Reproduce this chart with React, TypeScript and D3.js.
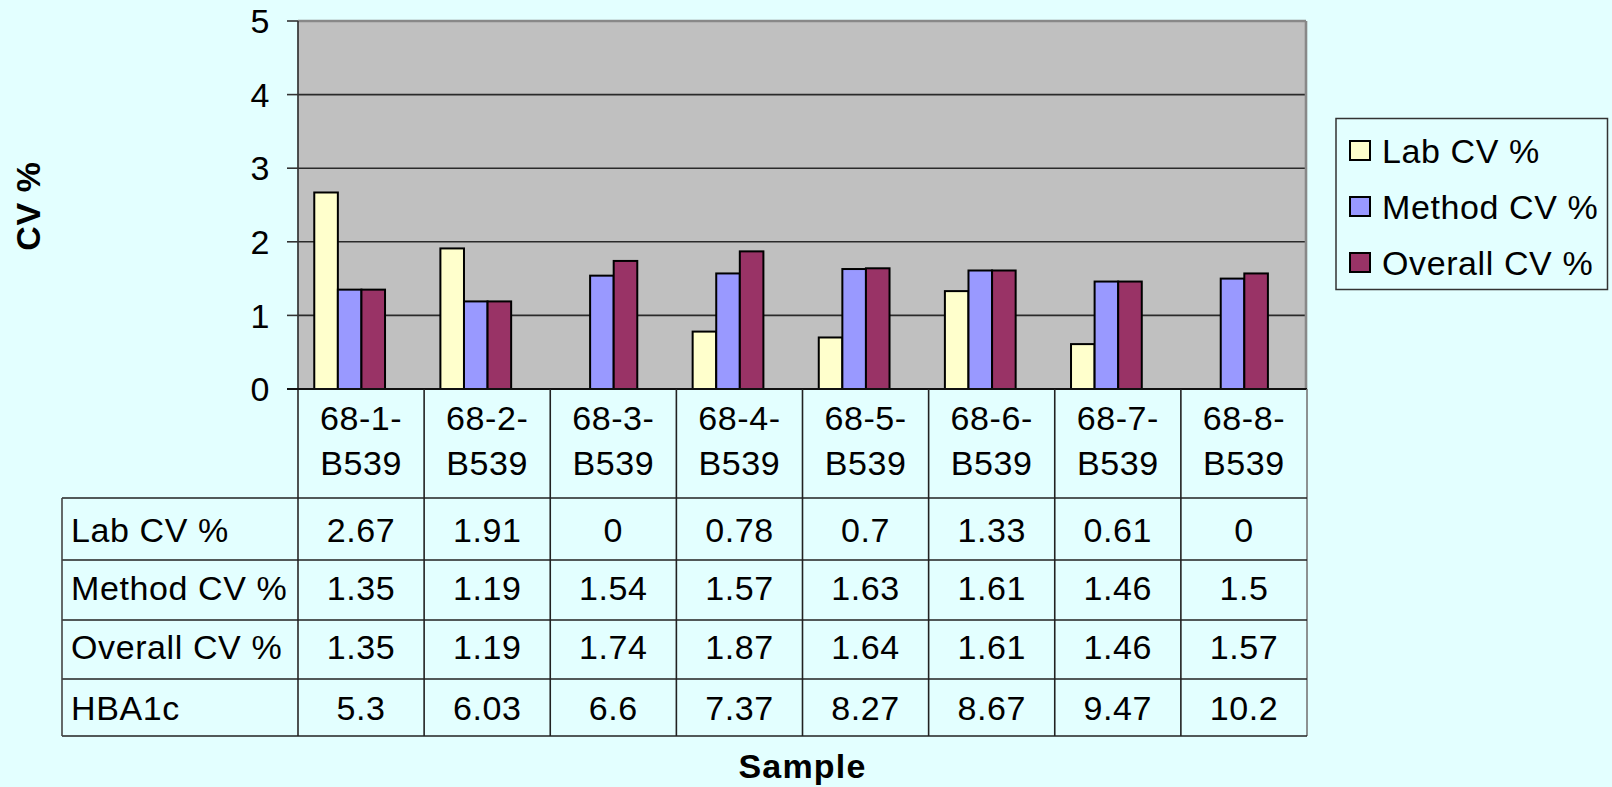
import React from "react";
import * as d3 from "d3";

// Samples and their CV figures (also shown in the data table under the plot)
const samples = [
  "68-1-B539",
  "68-2-B539",
  "68-3-B539",
  "68-4-B539",
  "68-5-B539",
  "68-6-B539",
  "68-7-B539",
  "68-8-B539",
];
const labCV = [2.67, 1.91, 0, 0.78, 0.7, 1.33, 0.61, 0];
const methodCV = [1.35, 1.19, 1.54, 1.57, 1.63, 1.61, 1.46, 1.5];
const overallCV = [1.35, 1.19, 1.74, 1.87, 1.64, 1.61, 1.46, 1.57];
const hba1c = [5.3, 6.03, 6.6, 7.37, 8.27, 8.67, 9.47, 10.2];

const seriesNames = ["Lab CV %", "Method CV %", "Overall CV %"];
const seriesColors = ["#FFFFCC", "#9999FF", "#993366"];
const yTicks = [0, 1, 2, 3, 4, 5];

const W = 1612;
const H = 787;
const BG = "#E3FFFF";
const FONT = "'Liberation Sans', Arial, sans-serif";

// layout
const plotLeft = 298;
const plotRight = 1307;
const plotTop = 21;
const plotBottom = 389;
const tableLeft = 62;
const rowLines = [498, 560, 620, 679, 736];
const rowBaselines = [542, 600, 659, 720];

export default function App() {
  const x = d3.scaleBand<string>().domain(samples).range([plotLeft, plotRight]).padding(0);
  const y = d3.scaleLinear().domain([0, 5]).range([plotBottom, plotTop]);
  const bw = x.bandwidth();
  const barW = bw * 0.187;
  const groupOffset = bw * 0.129;

  const series = [labCV, methodCV, overallCV];
  const tableRows: { label: string; values: number[] }[] = [
    { label: "Lab CV %", values: labCV },
    { label: "Method CV %", values: methodCV },
    { label: "Overall CV %", values: overallCV },
    { label: "HBA1c", values: hba1c },
  ];

  const txt = { fontFamily: FONT, fontSize: 34, letterSpacing: 0.6, fill: "#000" } as const;

  return (
    <svg
      width={W}
      height={H}
      style={{ position: "absolute", left: 0, top: 0, display: "block" }}
      xmlns="http://www.w3.org/2000/svg"
    >
      <rect x={0} y={0} width={W} height={H} fill={BG} />

      {/* plot area */}
      <rect x={plotLeft} y={plotTop} width={plotRight - plotLeft} height={plotBottom - plotTop} fill="#C0C0C0" />
      {yTicks.slice(1, -1).map((t) => (
        <line key={t} x1={plotLeft} x2={plotRight} y1={y(t)} y2={y(t)} stroke="#2a2a2a" strokeWidth={1.6} />
      ))}
      <line x1={plotLeft} x2={plotRight - 1} y1={plotTop} y2={plotTop} stroke="#888" strokeWidth={2.6} />
      <line x1={plotRight - 1} x2={plotRight - 1} y1={plotTop} y2={plotBottom} stroke="#888" strokeWidth={2.6} />

      {/* bars */}
      {samples.map((s, i) =>
        series.map((vals, k) => {
          const v = vals[i];
          if (v <= 0) return null;
          const bx = (x(s) as number) + groupOffset + k * barW;
          return (
            <rect
              key={`${s}-${k}`}
              x={bx}
              y={y(v)}
              width={barW}
              height={y(0) - y(v)}
              fill={seriesColors[k]}
              stroke="#000"
              strokeWidth={2}
            />
          );
        })
      )}

      {/* y axis */}
      <line x1={plotLeft} x2={plotLeft} y1={plotTop} y2={rowLines[rowLines.length - 1]} stroke="#333" strokeWidth={1.7} />
      {yTicks.map((t) => (
        <g key={t}>
          <line x1={plotLeft - 11} x2={plotLeft} y1={y(t)} y2={y(t)} stroke="#333" strokeWidth={1.6} />
          <text x={270} y={y(t)} dy="0.36em" textAnchor="end" {...txt}>
            {t}
          </text>
        </g>
      ))}
      <text
        transform={`translate(28,206) rotate(-90)`}
        textAnchor="middle"
        dy="0.36em"
        fontFamily={FONT}
        fontSize={34}
        fontWeight="bold"
        letterSpacing={0.6}
      >
        CV %
      </text>

      {/* category axis line */}
      <line x1={plotLeft - 11} x2={plotRight} y1={plotBottom} y2={plotBottom} stroke="#111" strokeWidth={1.8} />

      {/* data table grid */}
      {samples.map((s) => (
        <line
          key={`v-${s}`}
          x1={(x(s) as number) + bw}
          x2={(x(s) as number) + bw}
          y1={plotBottom}
          y2={rowLines[rowLines.length - 1]}
          stroke={s === samples[samples.length - 1] ? "#777" : "#222"}
          strokeWidth={1.6}
        />
      ))}
      {rowLines.map((ry) => (
        <line key={`h-${ry}`} x1={tableLeft} x2={plotRight} y1={ry} y2={ry} stroke="#222" strokeWidth={1.5} />
      ))}
      <line x1={tableLeft} x2={tableLeft} y1={rowLines[0]} y2={rowLines[rowLines.length - 1]} stroke="#444" strokeWidth={1.6} />

      {/* category labels */}
      {samples.map((s) => {
        const cx = (x(s) as number) + bw / 2;
        const parts = s.split("-");
        const line1 = `${parts[0]}-${parts[1]}-`;
        const line2 = parts.slice(2).join("-");
        return (
          <g key={`c-${s}`}>
            <text x={cx} y={430} textAnchor="middle" {...txt}>
              {line1}
            </text>
            <text x={cx} y={475} textAnchor="middle" {...txt}>
              {line2}
            </text>
          </g>
        );
      })}

      {/* table rows */}
      {tableRows.map((row, r) => (
        <g key={row.label}>
          <text x={71} y={rowBaselines[r]} {...txt}>
            {row.label}
          </text>
          {samples.map((s, i) => (
            <text key={s} x={(x(s) as number) + bw / 2} y={rowBaselines[r]} textAnchor="middle" {...txt}>
              {String(row.values[i])}
            </text>
          ))}
        </g>
      ))}

      {/* x axis title */}
      <text
        x={(plotLeft + plotRight) / 2}
        y={778}
        textAnchor="middle"
        fontFamily={FONT}
        fontSize={34}
        fontWeight="bold"
        letterSpacing={1.2}
      >
        Sample
      </text>

      {/* legend */}
      <rect x={1336} y={118.5} width={271.5} height={171} fill="none" stroke="#333" strokeWidth={1.5} />
      {seriesNames.map((name, k) => {
        const cy = 150.5 + k * 56;
        return (
          <g key={name}>
            <rect x={1350} y={cy - 9.5} width={20} height={19} fill={seriesColors[k]} stroke="#000" strokeWidth={2} />
            <text x={1382} y={cy} dy="0.36em" {...txt}>
              {name}
            </text>
          </g>
        );
      })}
    </svg>
  );
}
